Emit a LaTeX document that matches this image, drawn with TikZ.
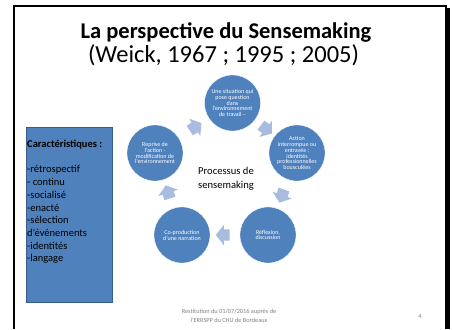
\documentclass[tikz,border=0pt]{standalone}
\usepackage{fontspec}
\setmainfont{Carlito}
\usepackage{tikz}
\usetikzlibrary{positioning}
\usetikzlibrary{shapes.arrows}
\definecolor{stageblue}{RGB}{79,129,189}
\definecolor{boxedge}{RGB}{56,93,138}
\definecolor{arrowblue}{RGB}{167,188,222}
\definecolor{footgray}{RGB}{130,130,130}
\tikzstyle{stage}=[circle,fill=stageblue,draw=white,line width=0.3pt,minimum size=56pt,inner sep=0pt,text=white,align=center,font=\fontsize{6}{5.9}\selectfont]
\tikzstyle{cyclearrow}=[single arrow,fill=arrowblue,draw=none,minimum size=0pt,inner sep=0pt,text width=9pt,text height=11pt,text depth=0pt,single arrow head extend=4.5pt,single arrow tip angle=104,sloped,allow upside down]
\tikzstyle{cycleedge} = [draw=none]
\tikzstyle{charbox}=[rectangle,fill=stageblue,draw=boxedge,line width=0.6pt,minimum width=86pt,minimum height=175pt,inner sep=0pt]
\tikzstyle{chartext}=[align=left,inner sep=0pt,font=\fontsize{10.5}{12.7}\selectfont]

\begin{document}
\begin{tikzpicture}[x=1pt,y=-1pt]
    \useasboundingbox[fill=white] (0,0) rectangle (452,329);

    % slide frame
    \fill[black] (447,8) rectangle (450,329);
    \draw[line width=2pt] (14,329) -- (14,6) -- (446,6) -- (446,329);

    \node[anchor=base,font=\fontsize{22.5}{26}\selectfont\bfseries] (title) at (226,38.5) {La perspective du Sensemaking};
    \node[anchor=base,font=\fontsize{24.5}{28}\selectfont] (subtitle) at (223.5,63) {(Weick, 1967 ; 1995 ; 2005)};

    \foreach \pos/\name/\label in {{(232.5,103)/T/Une situation qui\\pose question\\dans\\l'environnement\\de travail –},
        {(297,153)/R/Action\\interrompue ou\\entravée ;\\identités\\professionnelles\\bousculées},
        {(268,235)/BR/Réflexion,\\discussion},
        {(182,235)/BL/Co-production\\d'une narration},
        {(155,153)/L/Reprise de\\l'action -\\modification de\\l'environnement}}
        \node[stage] (\name) at \pos {\label};

    \foreach \source/ \dest in {L/T, T/R, R/BR, BR/BL, BL/L}
        \path[cycleedge] (\source) -- node[cyclearrow] {} (\dest);

    \node[align=center,font=\fontsize{10.6}{14}\selectfont] (process) at (226,179) {Processus de\\sensemaking};

    \node[charbox,anchor=north west] (carac) at (26,127) {};
    \node[chartext,anchor=north west] (caractext) at ([xshift=1pt,yshift=-13pt]carac.north west) {\textbf{Caractéristiques :}\\[12.7pt]-rétrospectif\\- continu\\-socialisé\\-enacté\\-sélection\\d'événements\\-identités\\-langage};

    \node[align=center,text=footgray,font=\fontsize{6.3}{9}\selectfont] (footer) at (229,316) {Restitution du 01/07/2016 auprès de\\l'ERRSPP du CHU de Bordeaux};
    \node[text=footgray,font=\fontsize{6.3}{9}\selectfont] (pagenum) at (420,316) {4};
\end{tikzpicture}
\end{document}
